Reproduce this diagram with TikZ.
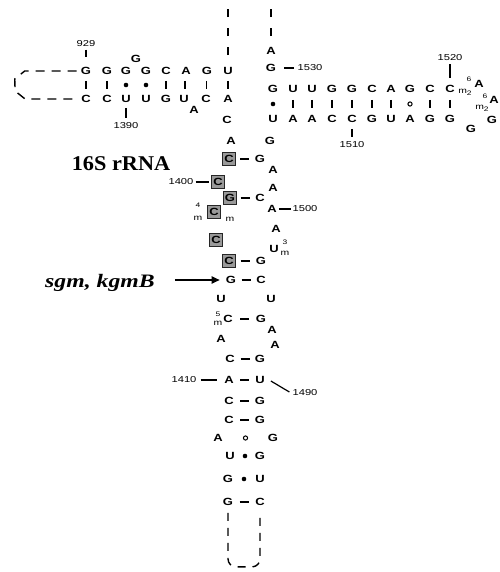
\documentclass[tikz,border=0pt]{standalone}
\usepackage{fontspec}
\setmainfont{Liberation Sans}
\newfontfamily\ntfont[FakeStretch=1.25]{Liberation Sans}
\newfontfamily\numfont[FakeStretch=1.3]{Liberation Sans}
\newfontfamily\titlefont[FakeStretch=1.06]{Liberation Serif}
\newfontfamily\genefont[FakeStretch=1.25]{Liberation Serif}
\usetikzlibrary{arrows.meta,calc}
\newcommand\pairH[2]{\draw[hb] ($(#1)!.5!(#2)+(-4.5,0)$) -- ($(#1)!.5!(#2)+(4.5,0)$);}
\newcommand\pairV[2]{\draw[vb] ($(#1)!.5!(#2)+(0,-4)$) -- ($(#1)!.5!(#2)+(0,4)$);}
\newcommand\pairDot[2]{\fill ($(#1)!.5!(#2)$) circle (2.3pt);}
\newcommand\pairO[2]{\draw[line width=1pt] ($(#1)!.5!(#2)$) circle (2.1pt);}
\newcommand\mtwo{m\raisebox{-2pt}{\fontsize{6.5}{7}\selectfont 2}}
\tikzset{
 nt/.style={font=\ntfont\bfseries\fontsize{10.4}{11}\selectfont, inner sep=0pt},
 bx/.style={nt, draw=black!85, fill=black!40, line width=0.9pt, minimum size=12.5pt},
 num/.style={font=\numfont\fontsize{8.6}{9}\selectfont, inner sep=0pt},
 modn/.style={font=\numfont\fontsize{6.5}{7}\selectfont, inner sep=0pt},
 modm/.style={font=\numfont\fontsize{8}{8}\selectfont, inner sep=0pt},
 tick/.style={line width=1.2pt},
 hb/.style={line width=1.9pt},
 vb/.style={line width=1.5pt},
 dsh/.style={line width=1.4pt, dash pattern=on 9pt off 7pt},
 arr/.style={line width=1.8pt, -{Triangle[length=8pt,width=7pt]}},
}
\begin{document}
\begin{tikzpicture}[x=1pt,y=-1pt]
\useasboundingbox (0,0) rectangle (499,572);
% ---------- top-left helix ----------
\foreach \n/\x/\l in {t1/86/G,t2/107/G,t3/126/G,t4/146/G,t5/166/C,t6/186/A,t7/207/G,t8/228/U}
  \node[nt] (\n) at (\x,71) {\l};
\foreach \n/\x/\l in {b1/86/C,b2/107/C,b3/126/U,b4/146/U,b5/166/G,b6/184/U,b7/206/C,b8/228/A}
  \node[nt] (\n) at (\x,99) {\l};
\node[nt] (tb) at (136,59) {G};
\node[nt] (ba) at (194,110) {A};
\pairV{t1}{b1}\pairV{t2}{b2}\pairDot{t3}{b3}\pairDot{t4}{b4}
\pairV{t5}{b5}\pairV{t6}{b6}\pairV{t7}{b7}\pairV{t8}{b8}
\node[num] (l929) at (86,43.5) {929};
\draw[tick] ($(l929.south)+(0,3)$) -- ($(t1.north)+(0,-10)$);
\node[num] (l1390) at (126,126) {1390};
\draw[tick] ($(b3.south)+(0,5)$) -- ($(l1390.north)+(0,-5)$);
\draw[dsh] ($(t1.west)+(-4,0)$) -- ($(t1.west)+(-56,0)$) -- ($(t1.west)+(-66,8)$)
  -- ($(b1.west)+(-66,-8)$) -- ($(b1.west)+(-56,0)$) -- ($(b1.west)+(-4,0)$);
\draw[dsh, dash pattern=on 8pt off 11pt] ($(t8.north)+(0,-12)$) -- ++(0,-48);
% ---------- right strand and right helix ----------
\node[nt] (r1) at (271,51) {A};
\node[nt] (r2) at (271,68) {G};
\draw[dsh, dash pattern=on 8pt off 11pt] ($(r1.north)+(0,-11)$) -- ++(0,-30);
\node[num] (l1530) at (310,68) {1530};
\draw[tick] ($(r2.east)+(8,0)$) -- ($(l1530.west)+(-3,0)$);
\foreach \n/\x/\l in {p1/273/G,p2/293/U,p3/312/U,p4/332/G,p5/352/G,p6/372/C,p7/391/A,p8/410/G,p9/430/C,p10/450/C}
  \node[nt] (\n) at (\x,89) {\l};
\foreach \n/\x/\l in {q1/273/U,q2/293/A,q3/312/A,q4/332/C,q5/352/C,q6/372/G,q7/391/U,q8/410/A,q9/430/G,q10/450/G}
  \node[nt] (\n) at (\x,119) {\l};
\pairDot{p1}{q1}\pairV{p2}{q2}\pairV{p3}{q3}\pairV{p4}{q4}\pairV{p5}{q5}
\pairV{p6}{q6}\pairV{p7}{q7}\pairO{p8}{q8}\pairV{p9}{q9}\pairV{p10}{q10}
\node[num] (l1520) at (450,58) {1520};
\draw[tick] ($(l1520.south)+(0,3)$) -- ($(p10.north)+(0,-7)$);
\node[num] (l1510) at (352,145) {1510};
\draw[tick] ($(q5.south)+(0,6)$) -- ($(l1510.north)+(0,-5)$);
\node[nt] (la1) at (479,84) {A};
\node[nt] (la2) at (494,100) {A};
\node[nt] (lg1) at (492,120) {G};
\node[nt] (lg2) at (471,129) {G};
\node[modn] (m6a) at (469,79) {6};
\node[modm] (m2a) at (465,92) {\mtwo};
\node[modn] (m6b) at (485,96) {6};
\node[modm] (m2b) at (482,108) {\mtwo};
% ---------- central stem ----------
\node[nt] (c1) at (227,120) {C};
\node[nt] (a1) at (231,141) {A};
\node[nt] (g0) at (270,141) {G};
\node[bx] (s1) at (229,159) {C};
\node[bx] (s2) at (218,182) {C};
\node[bx] (s3) at (230,198) {G};
\node[bx] (s4) at (214,212) {C};
\node[bx] (s5) at (216,240) {C};
\node[bx] (s6) at (229,261) {C};
\foreach \n/\x/\y/\l in {s7/231/280/G,s8/221/299/U,s9/228/319/C,s10/221/339/A,s11/230/359/C,
  s12/229/380/A,s13/229/401/C,s14/229/420/C,s15/218/438/A,s16/230/456/U,s17/228/479/G,s18/228/502/G}
  \node[nt] (\n) at (\x,\y) {\l};
\foreach \n/\x/\y/\l in {e1/260/159/G,e2/273/170/A,e3/273/188/A,e4/260/198/C,e5/272/209/A,
  e6/276/229/A,e7/274/249/U,e8/261/261/G,e9/261/280/C,e10/271/299/U,e11/261/319/G,e12/272/330/A,
  e13/275/345/A,e14/260/359/G,e15/260/380/U,e16/260/401/G,e17/260/420/G,e18/273/438/G,
  e19/260/456/G,e20/260/479/U,e21/260/502/C}
  \node[nt] (\n) at (\x,\y) {\l};
\pairH{s1}{e1}\pairH{s3}{e4}\pairH{s6}{e8}\pairH{s7}{e9}\pairH{s9}{e11}
\pairH{s11}{e14}\pairH{s12}{e15}\pairH{s13}{e16}\pairH{s14}{e17}\pairH{s18}{e21}
\pairO{s15}{e18}\pairDot{s16}{e19}\pairDot{s17}{e20}
% modifications
\node[modn] (m4n) at (198,205) {4};
\node[modm] (m4l) at (198,218) {m};
\node[modm] (m4r) at (230,219) {m};
\node[modn] (m3n) at (285,242) {3};
\node[modm] (m3m) at (285,253) {m};
\node[modn] (m5n) at (218,314) {5};
\node[modm] (m5m) at (218,323) {m};
% numbers
\node[num] (l1400) at (181,182) {1400};
\draw[tick] ($(l1400.east)+(2,0)$) -- ($(s2.west)+(-2,0)$);
\node[num] (l1500) at (305,209) {1500};
\draw[tick] ($(e5.east)+(2,0)$) -- ($(l1500.west)+(-1,0)$);
\node[num] (l1410) at (184,380) {1410};
\draw[tick] ($(l1410.east)+(4,0)$) -- ($(s12.west)+(-7,0)$);
\node[num] (l1490) at (305,393) {1490};
\draw[tick] ($(e15.east)+(6,1)$) -- ($(l1490.west)+(-3,-1)$);
% bottom loop
\draw[dsh, dash pattern=on 8pt off 7pt, rounded corners=8pt] ($(s18.south)+(0,7)$)
  |- ($(e21.south)+(0,61)$) -- ($(e21.south)+(0,7)$);
% texts
\node[font=\titlefont\bfseries\fontsize{21}{24}\selectfont, inner sep=0pt, anchor=base] (title) at (121,170) {16S rRNA};
\node[font=\genefont\bfseries\itshape\fontsize{19}{22}\selectfont, inner sep=0pt, anchor=base] (gene) at (100,287) {sgm, kgmB};
\draw[arr] (gene.east |- s7) ++(20,0) -- ($(s7.west)+(-6,0)$);
\end{tikzpicture}
\end{document}
